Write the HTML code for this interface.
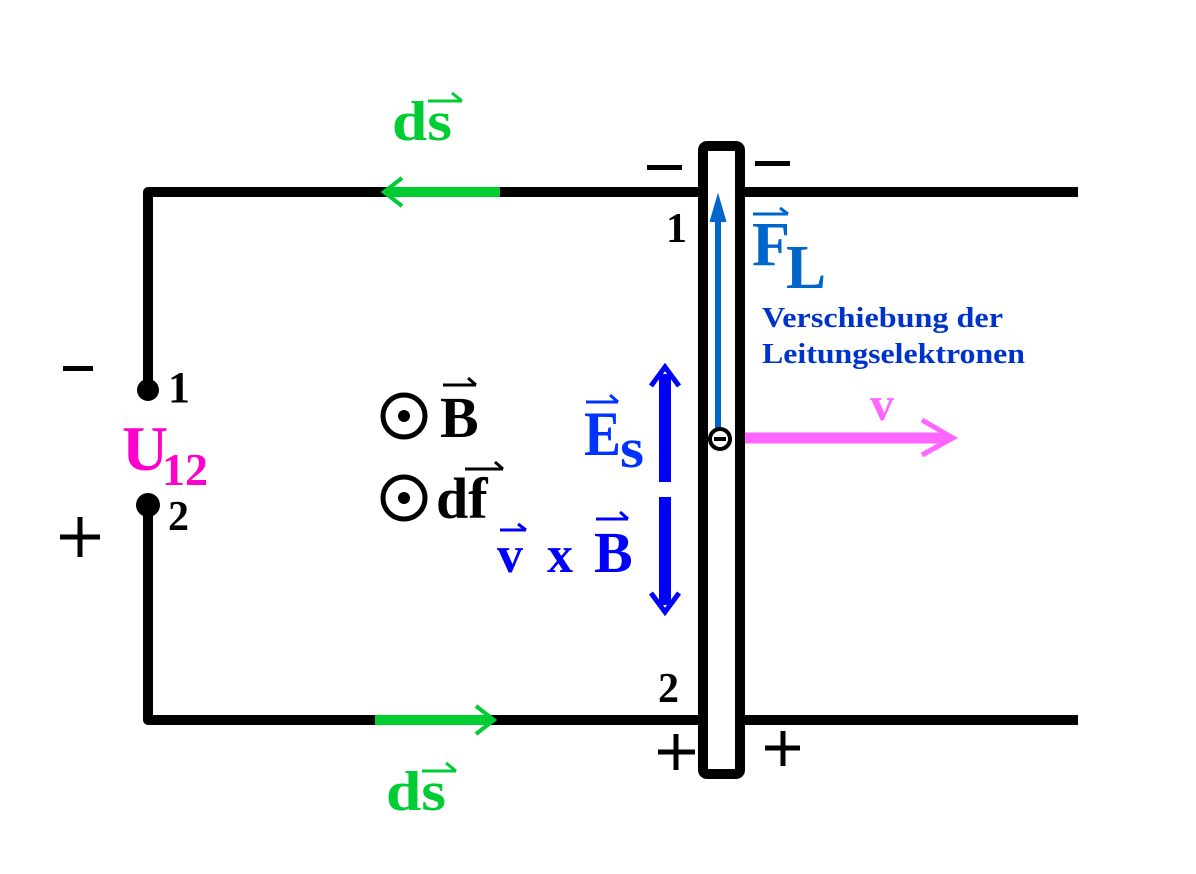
<!DOCTYPE html>
<html><head><meta charset="utf-8"><style>
html,body{margin:0;padding:0;background:#fff}
svg{display:block}
text{font-family:"Liberation Serif",serif;font-weight:bold}
</style></head><body>
<svg width="1196" height="874" viewBox="0 0 1196 874" xmlns="http://www.w3.org/2000/svg">
<rect width="1196" height="874" fill="#fff"/>
<path d="M1078 192 H148 V390" fill="none" stroke="#000" stroke-width="10" stroke-linejoin="round"/>
<path d="M148 505 V720 H1078" fill="none" stroke="#000" stroke-width="10" stroke-linejoin="round"/>
<circle cx="148" cy="390" r="11" fill="#000"/>
<circle cx="148" cy="505" r="12" fill="#000"/>
<rect x="703" y="146" width="37" height="628" rx="4" fill="#fff" stroke="#000" stroke-width="10"/>
<line x1="500" y1="192" x2="388" y2="192" stroke="#00cc33" stroke-width="10"/>
<path d="M402 178 L384 192 L402 206" fill="none" stroke="#00cc33" stroke-width="4"/>
<line x1="375" y1="720" x2="490" y2="720" stroke="#00cc33" stroke-width="10"/>
<path d="M476 706 L494 720 L476 734" fill="none" stroke="#00cc33" stroke-width="4"/>
<text x="392" y="140" font-size="56" fill="#00cc33" textLength="60" lengthAdjust="spacingAndGlyphs">ds</text>
<line x1="428" y1="101" x2="462" y2="101" stroke="#00cc33" stroke-width="3"/><path d="M452 93 L462 101" stroke="#00cc33" stroke-width="3"/>
<text x="386" y="810" font-size="56" fill="#00cc33" textLength="60" lengthAdjust="spacingAndGlyphs">ds</text>
<line x1="422" y1="771" x2="456" y2="771" stroke="#00cc33" stroke-width="3"/><path d="M446 763 L456 771" stroke="#00cc33" stroke-width="3"/>
<rect x="647" y="165" width="35" height="5" fill="#000"/>
<rect x="755" y="161" width="35" height="5" fill="#000"/>
<rect x="63" y="366" width="30" height="5" fill="#000"/>
<path d="M60 537 H100 M80 517 V557" stroke="#000" stroke-width="5"/>
<path d="M658 752 H695 M676 734 V770" stroke="#000" stroke-width="5"/>
<path d="M765 748 H800 M783 731 V766" stroke="#000" stroke-width="5"/>
<text x="666" y="242" font-size="42" fill="#000">1</text>
<text x="658" y="702" font-size="42" fill="#000">2</text>
<text x="168" y="402" font-size="44" fill="#000">1</text>
<text x="168" y="530" font-size="42" fill="#000">2</text>
<text x="122" y="470" font-size="64" fill="#ff00cc">U</text>
<text x="162" y="485" font-size="46" fill="#ff00cc">12</text>
<line x1="718" y1="428" x2="718" y2="212" stroke="#0066cc" stroke-width="6"/>
<path d="M711 222 L718 198 L725 222" fill="#0066cc" stroke="#0066cc" stroke-width="3"/>
<circle cx="720" cy="439" r="10" fill="#fff" stroke="#000" stroke-width="4"/>
<rect x="714" y="437" width="12" height="4" fill="#000"/>
<text x="752" y="265" font-size="62" fill="#0066cc" textLength="38" lengthAdjust="spacingAndGlyphs">F</text>
<text x="786" y="288" font-size="62" fill="#0066cc" textLength="40" lengthAdjust="spacingAndGlyphs">L</text>
<line x1="753" y1="214" x2="788" y2="214" stroke="#0066cc" stroke-width="3"/><path d="M780 208 L788 214" stroke="#0066cc" stroke-width="3"/>
<text x="762" y="327" font-size="29" fill="#0033cc" textLength="241" lengthAdjust="spacingAndGlyphs">Verschiebung der</text>
<text x="762" y="363" font-size="29" fill="#0033cc" textLength="263" lengthAdjust="spacingAndGlyphs">Leitungselektronen</text>
<line x1="745" y1="438" x2="948" y2="438" stroke="#ff66ff" stroke-width="11"/>
<path d="M922 420 L953 438 L922 455" fill="none" stroke="#ff66ff" stroke-width="5"/>
<text x="870" y="420" font-size="48" fill="#ff66ff">v</text>
<line x1="665" y1="482" x2="665" y2="374" stroke="#0000ff" stroke-width="12"/>
<path d="M651 386 L665 367 L679 386" fill="none" stroke="#0000ff" stroke-width="5"/>
<line x1="665" y1="497" x2="665" y2="605" stroke="#0000ff" stroke-width="12"/>
<path d="M651 593 L665 612 L679 593" fill="none" stroke="#0000ff" stroke-width="5"/>
<text x="584" y="455" font-size="64" fill="#0033ff" textLength="37" lengthAdjust="spacingAndGlyphs">E</text>
<text x="620" y="467" font-size="56" fill="#0033ff" textLength="24" lengthAdjust="spacingAndGlyphs">s</text>
<line x1="586" y1="402" x2="618" y2="402" stroke="#0033ff" stroke-width="3"/><path d="M610 395 L618 402" stroke="#0033ff" stroke-width="3"/>
<text x="497" y="572" font-size="52" fill="#0000ff">v</text>
<line x1="500" y1="530" x2="526" y2="530" stroke="#0000ff" stroke-width="3"/><path d="M518 524 L526 530" stroke="#0000ff" stroke-width="3"/>
<text x="547" y="572" font-size="52" fill="#0000ff">x</text>
<text x="594" y="572" font-size="58" fill="#0000ff">B</text>
<line x1="596" y1="519" x2="628" y2="519" stroke="#0000ff" stroke-width="3"/><path d="M620 512 L628 519" stroke="#0000ff" stroke-width="3"/>
<circle cx="404" cy="416" r="21" fill="none" stroke="#000" stroke-width="5"/>
<circle cx="404" cy="416" r="6" fill="#000"/>
<text x="440" y="437" font-size="58" fill="#000">B</text>
<line x1="443" y1="385" x2="476" y2="385" stroke="#000" stroke-width="3"/><path d="M468 378 L476 385" stroke="#000" stroke-width="3"/>
<circle cx="404" cy="498" r="21" fill="none" stroke="#000" stroke-width="5"/>
<circle cx="404" cy="498" r="6" fill="#000"/>
<text x="436" y="518" font-size="58" fill="#000">df</text>
<line x1="465" y1="469" x2="503" y2="469" stroke="#000" stroke-width="3"/><path d="M495 462 L503 469" stroke="#000" stroke-width="3"/>
</svg>
</body></html>
